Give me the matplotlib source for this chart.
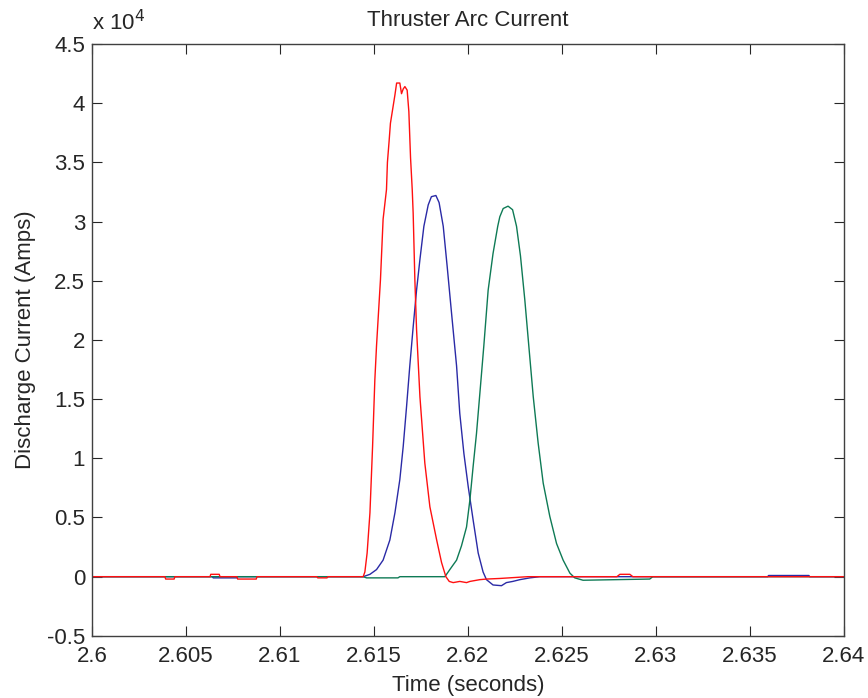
import numpy as np
import matplotlib.pyplot as plt
from matplotlib.ticker import FuncFormatter

plt.rcParams['font.family'] = ['Liberation Sans', 'DejaVu Sans']

# values (time in s, current in Amps)
t_blue = [2.6, 2.6064, 2.60645, 2.6077, 2.60775, 2.61443, 2.61479, 2.61514, 2.61549,
          2.61585, 2.61612, 2.61638, 2.61656, 2.61674, 2.61691, 2.61709, 2.61727,
          2.61745, 2.61766, 2.61789, 2.61806, 2.6183, 2.61847, 2.61869, 2.6189,
          2.61913, 2.6194, 2.61957, 2.61979, 2.62002, 2.62028, 2.62055, 2.62081,
          2.62099, 2.62134, 2.62179, 2.62205, 2.62239, 2.62277, 2.6233, 2.62383,
          2.63596, 2.636, 2.63815, 2.63819, 2.64]
i_blue = [0, 0, -100, -100, 0, 0, 200, 600, 1400,
          3100, 5400, 8200, 11000, 14400, 17800, 21100, 24200,
          26800, 29600, 31400, 32100, 32200, 31600, 29600, 26200,
          22300, 17800, 13800, 10400, 7600, 4800, 2000, 400,
          -250, -700, -760, -500, -400, -250, -100, 0,
          0, 100, 100, 0, 0]

t_green = [2.6, 2.61443, 2.61461, 2.61628, 2.61638, 2.61878, 2.61904, 2.6194,
           2.61966, 2.61993, 2.62011, 2.62028, 2.62046, 2.62064, 2.62085, 2.62108,
           2.62134, 2.62159, 2.6217, 2.62188, 2.62214, 2.62238, 2.62259, 2.6228,
           2.62303, 2.62326, 2.62348, 2.62374, 2.62401, 2.62436, 2.62472, 2.62507,
           2.62543, 2.62569, 2.62613, 2.62968, 2.62984, 2.64]
i_green = [0, 0, -100, -100, 0, 0, 600, 1400,
           2600, 4200, 6500, 9300, 12100, 15500, 19500, 24200,
           27300, 29600, 30400, 31100, 31300, 31000, 29600, 27100,
           23400, 19200, 15200, 11300, 7900, 5100, 2800, 1400,
           300, -100, -300, -200, 0, 0]

t_red = [2.6, 2.60388, 2.60392, 2.60437, 2.60441, 2.60628, 2.60632, 2.60677, 2.60681,
         2.60771, 2.60775, 2.60874, 2.60878, 2.61197, 2.61201, 2.61251, 2.61255,
         2.61443, 2.61452, 2.61464, 2.61479, 2.61493, 2.61505, 2.61514, 2.61535,
         2.61549, 2.61567, 2.61572, 2.61581, 2.61588, 2.61599, 2.61612, 2.61621,
         2.61638, 2.61647, 2.61656, 2.61665, 2.61677, 2.61686, 2.61695, 2.61704,
         2.61709, 2.61718, 2.61727, 2.61745, 2.61771, 2.61798, 2.61834, 2.6186,
         2.61883, 2.61901, 2.61922, 2.61957, 2.61993, 2.62011, 2.62064, 2.62099,
         2.6217, 2.62319, 2.62793, 2.62809, 2.62862, 2.62878, 2.64]
i_red = [0, 0, -200, -200, 0, 0, 200, 200, 0,
         0, -200, -200, 0, 0, -100, -100, 0,
         0, 400, 2000, 5400, 11000, 16600, 19500, 25100,
         30200, 32700, 35000, 36800, 38300, 39400, 40700, 41700,
         41700, 40800, 41200, 41400, 41100, 39300, 35400, 32700,
         30700, 25100, 20900, 15200, 9600, 5900, 3100, 1200,
         0, -400, -500, -400, -500, -400, -250, -200,
         -150, 0, 0, 200, 200, 0, 0]

fig = plt.figure(figsize=(8.68, 6.98), dpi=100)
ax = fig.add_axes([0.106, 0.089, 0.866, 0.848])

ax.plot(t_blue, i_blue, color='#2a2aa6', lw=1.0)
ax.plot(t_green, i_green, color='#0e7a55', lw=1.0)
ax.plot(t_red, i_red, color='#ff1010', lw=1.0)

ax.set_xlim(2.6, 2.64)
ax.set_ylim(-5000, 45000)
ax.set_xticks(np.arange(2.6, 2.6401, 0.005))
ax.set_yticks(np.arange(-5000, 45001, 5000))
ax.xaxis.set_major_formatter(FuncFormatter(lambda v, p: '%g' % round(v, 4)))
ax.yaxis.set_major_formatter(FuncFormatter(lambda v, p: '%g' % (v / 1e4)))
ax.tick_params(direction='in', length=7, width=0.8, colors='#262626',
               labelsize=16, top=True, right=True)
ax.tick_params(axis='x', pad=7)
ax.tick_params(axis='y', pad=5)
for s in ax.spines.values():
    s.set_color('#404040')
    s.set_linewidth(1.0)

ax.text(0.0, 1.015, r'x 10$^{4}$', transform=ax.transAxes, fontsize=16,
        color='#262626', ha='left', va='bottom')
ax.set_title('Thruster Arc Current', fontsize=16, color='#262626', pad=13)
ax.set_xlabel('Time (seconds)', fontsize=16, color='#262626', labelpad=6)
ax.set_ylabel('Discharge Current (Amps)', fontsize=16, color='#262626', labelpad=8)

fig.savefig('out.png', dpi=100)
